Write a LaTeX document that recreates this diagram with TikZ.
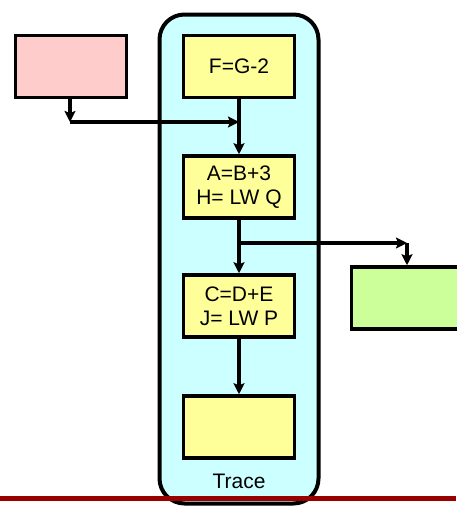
\documentclass[tikz,border=0pt]{standalone}
\usepackage{fontspec}
\setmainfont{Liberation Sans}
\usepackage{xcolor}
\usetikzlibrary{arrows.meta}

\definecolor{pinkfill}{HTML}{FFCCCC}
\definecolor{yellowfill}{HTML}{FFFF99}
\definecolor{cyanfill}{HTML}{CCFFFF}
\definecolor{greenfill}{HTML}{CCFF99}
\definecolor{barred}{HTML}{990000}

\tikzset{
  box/.style={draw, line width=3.5pt, minimum width=111pt, minimum height=62pt,
              align=center, font=\fontsize{21}{24}\selectfont, inner sep=0pt},
  trace/.style={draw, line width=4pt, fill=cyanfill, rounded corners=25pt,
              minimum width=159pt, minimum height=489pt, inner sep=0pt},
  arr/.style={line width=3.5pt, -{Stealth[length=11pt,width=11pt,inset=2pt]}},
}

\begin{document}
\begin{tikzpicture}[x=1pt,y=-1pt]
\useasboundingbox (0,0) rectangle (456,506);

% Trace container
\node[trace] (tracebox) at (239,259) {};
\node[font=\fontsize{21}{24}\selectfont] (tracelabel) at (239,481) {Trace};

% Red bar at the bottom
\draw[barred, line width=5pt] (0,498.5) -- (456,498.5);

% Boxes
\node[box, fill=pinkfill] (pink) at (71,66.5) {};
\node[box, fill=yellowfill] (f) at (239,66.5) {F=G-2};
\node[box, fill=yellowfill] (a) at (239,187) {A=B+3\\H= LW Q};
\node[box, fill=yellowfill] (c) at (239,306) {C=D+E\\J= LW P};
\node[box, fill=yellowfill] (d) at (239,427) {};
\node[box, fill=greenfill] (green) at (407,298) {};

% Connectors
\coordinate (join) at (70,122);
\coordinate (split) at (239,243);
\draw[arr] (pink.south -| join) -- (join);
\draw[arr] (join) -- (join -| f.south);
\draw[arr] (f.south) -- (a.north);
\draw[arr] (a.south) -- (c.north);
\draw[arr] (split) -- (split -| green.north);
\draw[arr] (split -| green.north) -- (green.north);
\draw[arr] (c.south) -- (d.north);

\end{tikzpicture}
\end{document}
